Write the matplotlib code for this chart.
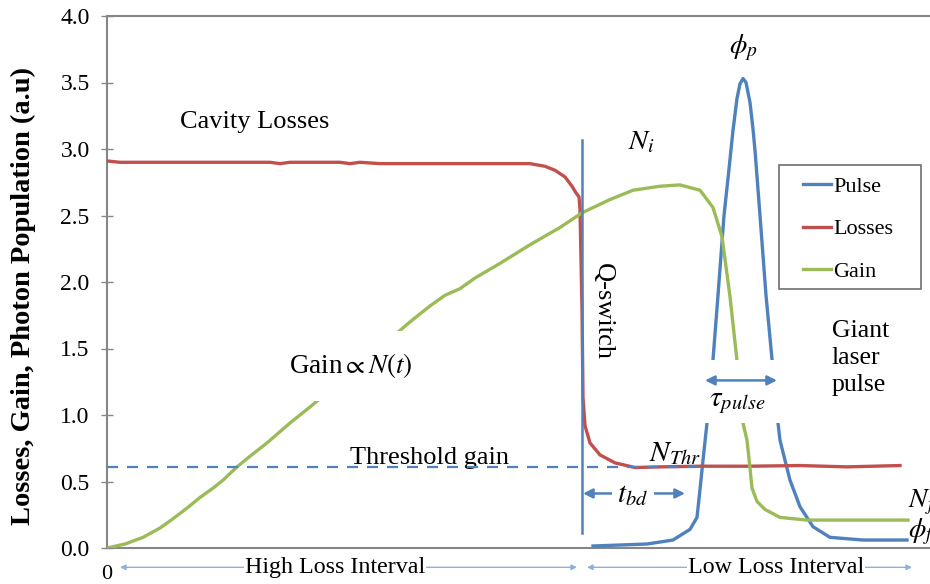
import numpy as np
import matplotlib
matplotlib.use("Agg")
import matplotlib.pyplot as plt
from matplotlib.patches import Rectangle

plt.rcParams['font.family'] = ['Liberation Serif', 'DejaVu Serif']
plt.rcParams['mathtext.fontset'] = 'stix'

# ---------------- data ----------------
loss_t = [0, 13, 93, 163, 173, 183, 233, 243, 253, 273, 343, 423, 438, 448, 458,
          465, 469, 472, 473, 475, 476, 478, 483, 493, 508, 528, 553, 593, 643,
          693, 740, 793]
loss_v = [2.91, 2.90, 2.90, 2.90, 2.89, 2.90, 2.90, 2.89, 2.90, 2.89, 2.89, 2.89,
          2.87, 2.84, 2.79, 2.72, 2.67, 2.64, 2.55, 1.80, 1.13, 0.92, 0.79, 0.70,
          0.64, 0.605, 0.61, 0.615, 0.615, 0.62, 0.61, 0.62]

gain_t = [0, 18, 36, 53, 66, 80, 93, 106, 116, 130, 143, 160, 183, 203, 286,
          303, 323, 338, 353, 368, 393, 423, 453, 475, 503, 526, 553, 573, 593,
          606, 615, 623, 631, 636, 640, 643, 645, 650, 658, 673, 700, 801]
gain_v = [0.0, 0.03, 0.08, 0.15, 0.22, 0.30, 0.38, 0.45, 0.51, 0.61, 0.69, 0.79,
          0.94, 1.06, 1.59, 1.70, 1.82, 1.90, 1.95, 2.03, 2.14, 2.28, 2.41, 2.52,
          2.62, 2.69, 2.72, 2.73, 2.69, 2.56, 2.34, 1.89, 1.34, 0.94, 0.81, 0.60,
          0.45, 0.35, 0.29, 0.23, 0.21, 0.21]

pulse_t = [486, 540, 566, 583, 590, 593, 596, 600, 605, 611, 617, 622, 626, 630,
           633, 636, 639, 643, 646, 648, 653, 659, 666, 671, 673, 683, 693, 706,
           723, 756, 800]
pulse_v = [0.015, 0.03, 0.06, 0.14, 0.23, 0.44, 0.66, 0.94, 1.32, 1.90, 2.50,
           2.85, 3.14, 3.38, 3.49, 3.53, 3.50, 3.35, 3.15, 2.99, 2.50, 1.90, 1.34,
           0.94, 0.81, 0.51, 0.31, 0.16, 0.08, 0.06, 0.06]

threshold = 0.61
threshold_end = 600
qswitch_t = 475
qswitch_span = (0.11, 3.07)
y_ticks = [0.0, 0.5, 1.0, 1.5, 2.0, 2.5, 3.0, 3.5, 4.0]

c_pulse = '#4F81BD'
c_loss = '#C0504D'
c_gain = '#9BBB59'
c_arrow_light = '#8EB0DA'

# ---------------- figure ----------------
W, H = 930, 584
fig = plt.figure(figsize=(W / 100, H / 100), dpi=100)
ax = fig.add_axes([107 / W, 36 / H, 823 / W, 532 / H])
ax.set_xlim(0, 823)
ax.set_ylim(0, 4)

ax.plot(pulse_t, pulse_v, color=c_pulse, lw=2.4, label='Pulse', zorder=3)
ax.plot(loss_t, loss_v, color=c_loss, lw=2.4, label='Losses', zorder=3)
ax.plot(gain_t, gain_v, color=c_gain, lw=2.4, label='Gain', zorder=3)

# threshold dashed
ax.plot([0, threshold_end], [threshold, threshold], color=c_pulse, lw=1.6,
        ls=(0, (5, 4)), zorder=3.5)
# Q-switch line
ax.plot([qswitch_t, qswitch_t], list(qswitch_span), color=c_pulse, lw=1.8,
        zorder=3.6)

# axes styling
for s in ['left', 'bottom', 'top']:
    ax.spines[s].set_color('#868686')
    ax.spines[s].set_linewidth(1.5)
ax.spines['right'].set_visible(False)
ax.set_xticks([])
ax.set_yticks(y_ticks)
ax.set_yticklabels([f'{v:.1f}' for v in y_ticks])
ax.tick_params(axis='y', direction='inout', length=9, width=1, color='#868686',
               labelsize=17, pad=8)
ax.set_ylabel('Losses, Gain, Photon Population (a.u)', fontsize=20.5,
              fontweight='bold')
ax.yaxis.set_label_coords(-0.086, 0.474)

# legend (frame drawn separately)
leg = ax.legend(loc='upper left', bbox_to_anchor=(803 / W, 1 - 176 / H),
                bbox_transform=fig.transFigure, fontsize=16, frameon=False,
                handlelength=1.25, handletextpad=0.1, labelspacing=1.0,
                borderpad=0, borderaxespad=0)
fig.patches.append(Rectangle((779 / W, 1 - 289 / H), 142 / W, 124 / H,
                             transform=fig.transFigure, fill=False,
                             ec='#6e6e6e', lw=1.2, zorder=5))

# ---------------- annotations ----------------
ax.text(148, 3.20, 'Cavity Losses', fontsize=19, ha='center', va='center')
ax.text(636, 3.76, r'$\phi_p$', fontsize=20, ha='center', va='center')
ax.text(534, 3.05, r'$N_i$', fontsize=20.5, ha='center', va='center')
ax.text(496, 1.78, 'Q-switch', fontsize=19, rotation=270, ha='center',
        va='center')
ax.text(244, 1.37, r'Gain$\propto N(t)$', fontsize=19.5, ha='center',
        va='center', zorder=4,
        bbox=dict(boxstyle='square,pad=0.75', fc='white', ec='none'))
ax.text(323, 0.68, 'Threshold gain', fontsize=19, ha='center', va='center')
ax.text(568, 0.71, r'$N_{Thr}$', fontsize=21, ha='center', va='center')

# t_bd arrow
ax.annotate('', xy=(qswitch_t + 1, 0.41), xytext=(578, 0.41),
            arrowprops=dict(arrowstyle='<|-|>', color=c_pulse, lw=1.8,
                            mutation_scale=14, shrinkA=0, shrinkB=0), zorder=4)
ax.text(526, 0.40, r'$t_{bd}$', fontsize=21, ha='center', va='center', zorder=5,
        bbox=dict(boxstyle='square,pad=0.2', fc='white', ec='none'))

# tau pulse: white mask behind label, arrow on top
tau_x, tau_y = 630, 1.09
ax.add_patch(Rectangle((tau_x - 45, tau_y - 0.15), 90, 0.47, fc='white',
                       ec='none', zorder=4))
ax.text(tau_x, tau_y, r'$\tau_{pulse}$', fontsize=21, ha='center', va='center',
        zorder=5)
ax.annotate('', xy=(598, 1.26), xytext=(670, 1.26),
            arrowprops=dict(arrowstyle='<|-|>', color=c_pulse, lw=1.8,
                            mutation_scale=14, shrinkA=0, shrinkB=0), zorder=6)

ax.text(725, 1.43, 'Giant\nlaser\npulse', fontsize=18.5, ha='left', va='center',
        linespacing=1.3)
ax.text(801, 0.34, r'$N_f$', fontsize=20, ha='left', va='center', clip_on=False)
ax.text(801, 0.12, r'$\phi_f$', fontsize=20, ha='left', va='center',
        clip_on=False)

# bottom interval labels
ax.annotate('', xy=(13, -0.145), xytext=(470, -0.145), xycoords='data',
            arrowprops=dict(arrowstyle='<|-|>', color=c_arrow_light, lw=1.0,
                            mutation_scale=8, shrinkA=0, shrinkB=0),
            annotation_clip=False)
ax.text(228, -0.145, 'High Loss Interval', fontsize=17.3, ha='center',
        va='center', clip_on=False, zorder=5,
        bbox=dict(boxstyle='square,pad=0.05', fc='white', ec='none'))
ax.annotate('', xy=(480, -0.145), xytext=(805, -0.145), xycoords='data',
            arrowprops=dict(arrowstyle='<|-|>', color=c_arrow_light, lw=1.0,
                            mutation_scale=8, shrinkA=0, shrinkB=0),
            annotation_clip=False)
ax.text(669, -0.145, 'Low Loss Interval', fontsize=17.3, ha='center',
        va='center', clip_on=False, zorder=5,
        bbox=dict(boxstyle='square,pad=0.05', fc='white', ec='none'))
ax.text(0, -0.2, '0', fontsize=16, ha='center', va='center', clip_on=False)

fig.savefig('out.png', dpi=100)
